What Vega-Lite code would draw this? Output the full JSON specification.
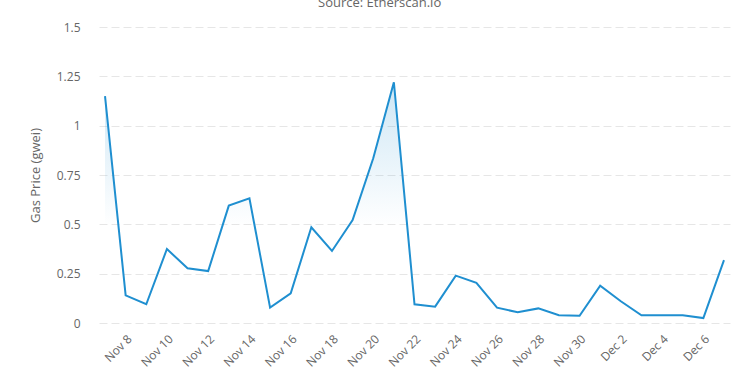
{
  "$schema": "https://vega.github.io/schema/vega-lite/v6.json",
  "width": 631,
  "height": 296,
  "autosize": {"type": "none"},
  "padding": {"left": 99, "top": 27, "right": 20, "bottom": 52},
  "background": "white",
  "title": {
    "text": "Source: Etherscan.io",
    "fontSize": 13,
    "fontWeight": "normal",
    "font": "Open Sans",
    "color": "#666666",
    "anchor": "middle",
    "frame": "bounds",
    "baseline": "alphabetic",
    "offset": 1
  },
  "config": {
    "view": {"stroke": null},
    "axis": {"labelFont": "Open Sans", "titleFont": "Open Sans", "labelColor": "#666666", "titleColor": "#666666"}
  },
  "data": {
    "values": [
      {"date": "2023-11-07", "gas": 1.15},
      {"date": "2023-11-08", "gas": 0.14},
      {"date": "2023-11-09", "gas": 0.095},
      {"date": "2023-11-10", "gas": 0.375},
      {"date": "2023-11-11", "gas": 0.277},
      {"date": "2023-11-12", "gas": 0.263},
      {"date": "2023-11-13", "gas": 0.595},
      {"date": "2023-11-14", "gas": 0.632},
      {"date": "2023-11-15", "gas": 0.078},
      {"date": "2023-11-16", "gas": 0.15},
      {"date": "2023-11-17", "gas": 0.485},
      {"date": "2023-11-18", "gas": 0.365},
      {"date": "2023-11-19", "gas": 0.522},
      {"date": "2023-11-20", "gas": 0.835},
      {"date": "2023-11-21", "gas": 1.22},
      {"date": "2023-11-22", "gas": 0.095},
      {"date": "2023-11-23", "gas": 0.083},
      {"date": "2023-11-24", "gas": 0.24},
      {"date": "2023-11-25", "gas": 0.204},
      {"date": "2023-11-26", "gas": 0.078},
      {"date": "2023-11-27", "gas": 0.054},
      {"date": "2023-11-28", "gas": 0.074},
      {"date": "2023-11-29", "gas": 0.039},
      {"date": "2023-11-30", "gas": 0.037},
      {"date": "2023-12-01", "gas": 0.189},
      {"date": "2023-12-02", "gas": 0.11},
      {"date": "2023-12-03", "gas": 0.039},
      {"date": "2023-12-04", "gas": 0.039},
      {"date": "2023-12-05", "gas": 0.039},
      {"date": "2023-12-06", "gas": 0.025},
      {"date": "2023-12-07", "gas": 0.319}
    ]
  },
  "encoding": {
    "x": {
      "field": "date",
      "type": "temporal",
      "scale": {
        "type": "utc",
        "domain": [
          {"year": 2023, "month": 11, "date": 6, "hours": 17, "utc": true},
          {"year": 2023, "month": 12, "date": 7, "hours": 7, "utc": true}
        ]
      },
      "axis": {
        "title": null,
        "format": "%b %-d",
        "values": [
          {"year": 2023, "month": 11, "date": 8, "utc": true},
          {"year": 2023, "month": 11, "date": 10, "utc": true},
          {"year": 2023, "month": 11, "date": 12, "utc": true},
          {"year": 2023, "month": 11, "date": 14, "utc": true},
          {"year": 2023, "month": 11, "date": 16, "utc": true},
          {"year": 2023, "month": 11, "date": 18, "utc": true},
          {"year": 2023, "month": 11, "date": 20, "utc": true},
          {"year": 2023, "month": 11, "date": 22, "utc": true},
          {"year": 2023, "month": 11, "date": 24, "utc": true},
          {"year": 2023, "month": 11, "date": 26, "utc": true},
          {"year": 2023, "month": 11, "date": 28, "utc": true},
          {"year": 2023, "month": 11, "date": 30, "utc": true},
          {"year": 2023, "month": 12, "date": 2, "utc": true},
          {"year": 2023, "month": 12, "date": 4, "utc": true},
          {"year": 2023, "month": 12, "date": 6, "utc": true}
        ],
        "labelAngle": -45,
        "labelFontSize": 12,
        "labelPadding": 10,
        "ticks": false,
        "domain": false,
        "grid": false,
        "labelOverlap": false
      }
    },
    "y": {
      "field": "gas",
      "type": "quantitative",
      "scale": {"domain": [0, 1.5], "nice": false},
      "axis": {
        "title": "Gas Price (gwei)",
        "titleFontSize": 13,
        "titleFontWeight": "normal",
        "titlePadding": 14,
        "values": [0, 0.25, 0.5, 0.75, 1, 1.25, 1.5],
        "format": ".3~g",
        "labelFontSize": 12,
        "labelPadding": 19,
        "ticks": false,
        "domain": false,
        "grid": true,
        "gridColor": "#e6e6e6",
        "gridDash": [8, 4],
        "gridWidth": 1
      }
    }
  },
  "layer": [
    {
      "mark": {
        "type": "area",
        "interpolate": "linear",
        "fill": {
          "gradient": "linear",
          "x1": 0, "y1": 0, "x2": 0, "y2": 1,
          "stops": [
            {"offset": 0, "color": "rgba(31,143,208,0.22)"},
            {"offset": 0.6, "color": "rgba(31,143,208,0)"},
            {"offset": 1, "color": "rgba(31,143,208,0)"}
          ]
        }
      }
    },
    {
      "mark": {"type": "line", "color": "#1f8fd0", "strokeWidth": 2, "interpolate": "linear"}
    }
  ]
}
